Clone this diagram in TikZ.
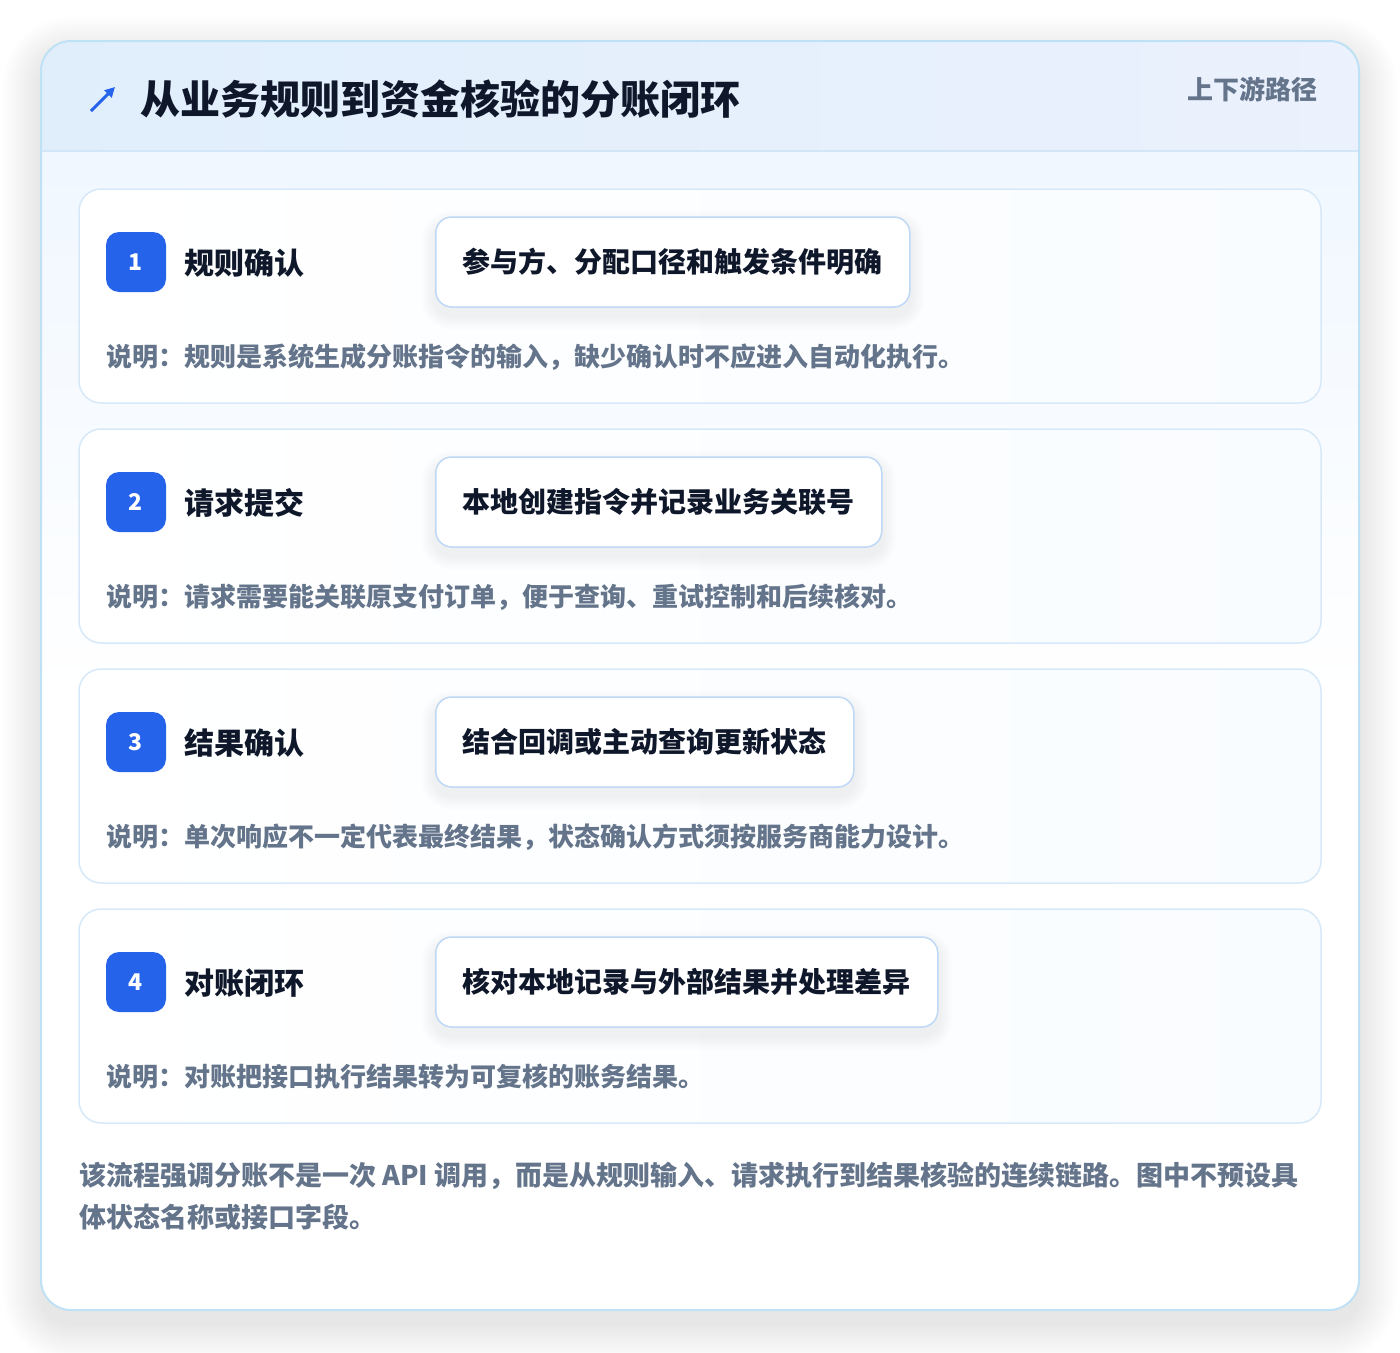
\documentclass[tikz,border=0pt]{standalone}
\usepackage{fontspec}
\setmainfont{Noto Sans CJK SC}
\usetikzlibrary{calc,arrows.meta}
\pgfdeclarelayer{back}
\pgfdeclarelayer{mid}
\pgfsetlayers{back,mid,main}
\definecolor{bluebadge}{HTML}{2563EB}
\definecolor{titlec}{HTML}{0F172A}
\definecolor{grayc}{HTML}{64748B}
\definecolor{outerborder}{HTML}{BFE1F6}
\definecolor{cardborder}{HTML}{D7E8F8}
\definecolor{pillborder}{HTML}{BFD8F5}
\definecolor{headl}{HTML}{E0EEFC}
\definecolor{headr}{HTML}{EBF1FD}
\definecolor{headline}{HTML}{D3E6F8}
\definecolor{bodytop}{HTML}{F0F7FF}
\definecolor{cardr}{HTML}{F9FCFF}
\definecolor{shadowc}{HTML}{1E293B}
\begin{document}
\begin{tikzpicture}[x=1pt,y=-1pt,
  card/.style={draw=cardborder, line width=1.5pt, rounded corners=22pt, left color=white, right color=cardr, minimum width=1242pt, minimum height=214pt, inner sep=0pt},
  badge/.style={fill=bluebadge, rounded corners=13pt, minimum size=60pt, inner sep=0pt, text=white, font=\fontsize{23}{26}\selectfont\bfseries},
  steptitle/.style={anchor=west, inner sep=0pt, text=titlec, font=\fontsize{30}{36}\selectfont\bfseries},
  pill/.style={anchor=west, draw=pillborder, line width=1.5pt, fill=white, rounded corners=16pt, minimum height=90pt, inner xsep=27pt, inner ysep=0pt, text=titlec, font=\fontsize{28}{34}\selectfont\bfseries},
  desc/.style={anchor=west, inner sep=0pt, text=grayc, font=\fontsize{26}{30}\selectfont\bfseries},
]
\useasboundingbox (0,0) rectangle (1400,1352);
\begin{pgfonlayer}{back}
\fill[white] (0,0) rectangle (1400,1352);
% outer shadow
\foreach \i in {1,...,24} {
  \pgfmathsetmacro{\r}{30+\i*1.6}
  \fill[shadowc, opacity=0.0042, rounded corners=\r pt] ($(41,41)+(-\i*1.6,-\i*1.6+14)$) rectangle ($(1359,1310)+(\i*1.6,\i*1.6+14)$);
}
% outer card
\fill[white, rounded corners=30pt] (41,41) rectangle (1359,1310);
\begin{scope}
  \clip[rounded corners=30pt] (41,41) rectangle (1359,1310);
  \shade[top color=bodytop, bottom color=white] (41,151) rectangle (1359,700);
  \shade[left color=headl, right color=headr] (41,41) rectangle (1359,151);
\end{scope}
\draw[headline, line width=1.5pt] (41,151) -- (1359,151);
\draw[outerborder, line width=2pt, rounded corners=30pt] (41,41) rectangle (1359,1310);
\end{pgfonlayer}

% header
\coordinate (ia) at (91,111);
\coordinate (ib) at (115,87);
\draw[bluebadge, line width=3pt, -{Triangle[length=10pt,width=10pt]}] (ia) -- (ib);
\node[anchor=west, inner sep=0pt, text=titlec, font=\fontsize{40}{48}\selectfont\bfseries] (title) at (140,99) {从业务规则到资金核验的分账闭环};
\node[anchor=east, inner sep=0pt, text=grayc, font=\fontsize{26}{30}\selectfont\bfseries] (tag) at (1318,89) {上下游路径};

% cards
\foreach \n/\yy/\lab/\pt/\ds in {
  1/189/规则确认/参与方、分配口径和触发条件明确/说明：规则是系统生成分账指令的输入，缺少确认时不应进入自动化执行。,
  2/429/请求提交/本地创建指令并记录业务关联号/说明：请求需要能关联原支付订单，便于查询、重试控制和后续核对。,
  3/669/结果确认/结合回调或主动查询更新状态/说明：单次响应不一定代表最终结果，状态确认方式须按服务商能力设计。,
  4/909/对账闭环/核对本地记录与外部结果并处理差异/说明：对账把接口执行结果转为可复核的账务结果。} {
  \begin{pgfonlayer}{back}
  \node[card] (card\n) at (700,\yy+107) {};
  \end{pgfonlayer}
  \node[badge] (badge\n) at (136,\yy+73) {\n};
  \node[steptitle] (st\n) at (184,\yy+74) {\lab};
  \node[pill] (pill\n) at (435,\yy+73) {\pt};
  \begin{pgfonlayer}{mid}
  \foreach \i in {1,...,14} {
    \pgfmathsetmacro{\r}{16+\i}
    \fill[shadowc, opacity=0.0055, rounded corners=\r pt] ($(pill\n.north west)+(-\i,-\i+8)$) rectangle ($(pill\n.south east)+(\i,\i+8)$);
  }
  \end{pgfonlayer}
  \node[desc] (desc\n) at (106,\yy+168) {\ds};
}

\node[anchor=north west, inner sep=0pt, text=grayc, align=left, font=\fontsize{27}{42}\selectfont\bfseries] (foot) at (79,1162) {该流程强调分账不是一次 API 调用，而是从规则输入、请求执行到结果核验的连续链路。图中不预设具\\体状态名称或接口字段。};
\end{tikzpicture}
\end{document}
